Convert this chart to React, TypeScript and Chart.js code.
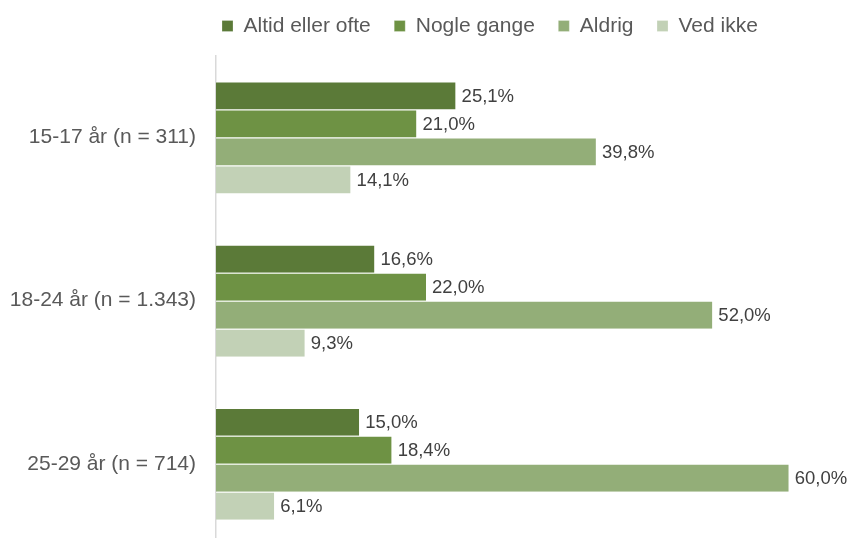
import React, { useEffect, useRef } from "react";
import { Chart, registerables } from "chart.js";

Chart.register(...registerables);

const categories = ["15-17 år (n = 311)", "18-24 år (n = 1.343)", "25-29 år (n = 714)"];
const seriesNames = ["Altid eller ofte", "Nogle gange", "Aldrig", "Ved ikke"];
const altid = [25.1, 16.6, 15.0];
const nogle = [21.0, 22.0, 18.4];
const aldrig = [39.8, 52.0, 60.0];
const vedIkke = [14.1, 9.3, 6.1];
const colors = ["#5B7A38", "#6E9244", "#93AE78", "#C2D1B6"];

const FONT = "'Liberation Sans', Arial, sans-serif";
const LEGEND_PAD = 23.5;

const legendPlace = {
  id: "legendPlace",
  beforeInit(chart: any) {
    const legend = chart.legend;
    if (!legend) return;
    const fit = legend.fit;
    legend.fit = function () {
      fit.bind(this)();
      this.height = 56;
    };
  },
  afterLayout(chart: any) {
    const legend = chart.legend;
    if (!legend) return;
    const dx = 222 - (legend.left + LEGEND_PAD);
    legend.left += dx;
    legend.right += dx;
    const dy = -8 - legend.top;
    legend.top += dy;
    legend.bottom += dy;
  },
};

const dataLabels = {
  id: "dataLabels",
  afterDatasetsDraw(chart: any) {
    const ctx = chart.ctx;
    ctx.save();
    ctx.font = `18.5px ${FONT}`;
    ctx.fillStyle = "#404040";
    ctx.textAlign = "left";
    ctx.textBaseline = "middle";
    chart.data.datasets.forEach((ds: any, i: number) => {
      const meta = chart.getDatasetMeta(i);
      meta.data.forEach((bar: any, j: number) => {
        const v = ds.data[j];
        const txt = v.toFixed(1).replace(".", ",") + "%";
        ctx.fillText(txt, bar.x + 6, bar.y + 1);
      });
    });
    ctx.restore();
  },
};

export default function App() {
  const ref = useRef<HTMLCanvasElement | null>(null);
  useEffect(() => {
    document.body.style.margin = "0";
    if (!ref.current) return;
    const allSeries = [altid, nogle, aldrig, vedIkke];
    const chart = new Chart(ref.current, {
      type: "bar",
      data: {
        labels: categories,
        datasets: allSeries.map((d, i) => ({
          label: seriesNames[i],
          data: d,
          backgroundColor: colors[i],
          borderColor: "#ffffff",
          borderWidth: { top: 1, bottom: 0, left: 0, right: 0 },
          borderSkipped: false,
          barPercentage: 1,
          categoryPercentage: 0.686,
        })),
      },
      options: {
        indexAxis: "y",
        responsive: false,
        animation: false,
        layout: { padding: { top: 0, right: 5, left: 0, bottom: 0 } },
        plugins: {
          legend: {
            position: "top",
            align: "start",
            labels: {
              boxWidth: 11,
              boxHeight: 11,
              padding: LEGEND_PAD,
              color: "#595959",
              font: { family: FONT, size: 21 },
            },
          },
          tooltip: { enabled: false },
        },
        scales: {
          x: {
            display: false,
            min: 0,
            max: 66,
          },
          y: {
            afterFit(scale: any) {
              scale.width = 216;
            },
            grid: { display: false, drawTicks: false },
            border: { display: true, color: "#D9D9D9", width: 1.5 },
            ticks: {
              color: "#595959",
              padding: 20,
              font: { family: FONT, size: 21 },
            },
          },
        },
      },
      plugins: [legendPlace, dataLabels],
    });
    return () => chart.destroy();
  }, []);
  return (
    <div style={{ width: 851, height: 538, overflow: "hidden" }}>
      <canvas ref={ref} width={851} height={578} style={{ display: "block" }} />
    </div>
  );
}
